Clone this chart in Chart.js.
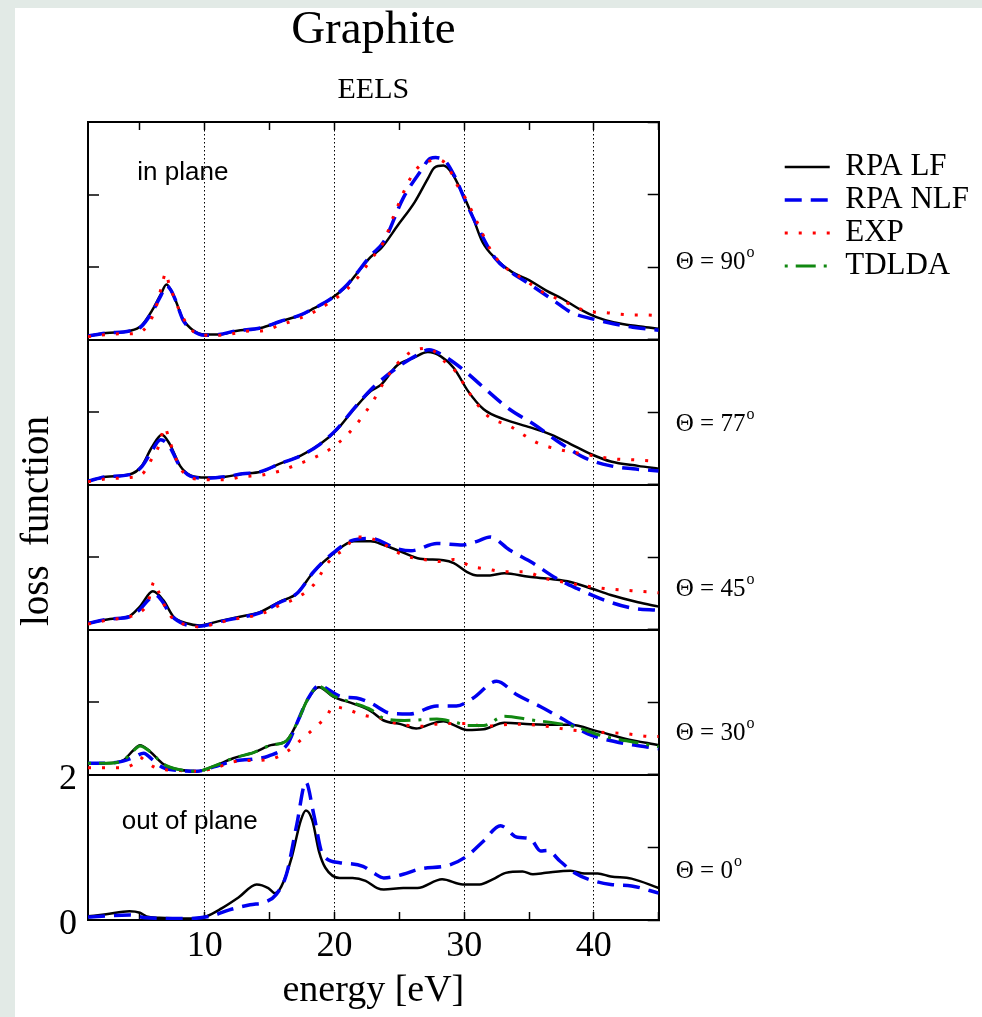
<!DOCTYPE html>
<html>
<head>
<meta charset="utf-8">
<title>Graphite EELS</title>
<script src="https://cdn.jsdelivr.net/npm/chart.js@4.4.1/dist/chart.umd.min.js"></script>
<style>
  html, body { margin: 0; padding: 0; background: #e2eae6; overflow: hidden; }
  #wrap { position: absolute; left: 15px; top: 8px; width: 967px; height: 1009px; background: #fff; overflow: hidden; }
  canvas { display: block; }
</style>
</head>
<body>
<div id="wrap"><canvas id="eels"></canvas></div>
<script>
// energies [eV] and loss function values, one pair per curve

// Theta = 90 (in plane)
const lf90E = [1, 2.4, 4.2, 5.1, 6.0, 6.6, 7.05, 7.4, 7.8, 8.3, 9.1, 10, 11.1, 12.4, 14.3, 15.8, 17.4, 18.4, 19.7, 21.0, 21.8, 22.8, 23.6, 24.9, 26.2, 27.2, 27.7, 28.4, 29.0, 29.8, 30.6, 31.4, 32.4, 33.7, 35.0, 36.3, 37.6, 38.9, 40.2, 41.5, 43.6, 45];
const lf90 = [0.05, 0.09, 0.12, 0.19, 0.42, 0.62, 0.76, 0.68, 0.52, 0.29, 0.13, 0.07, 0.07, 0.12, 0.16, 0.25, 0.34, 0.43, 0.56, 0.75, 0.93, 1.14, 1.26, 1.58, 1.90, 2.22, 2.37, 2.40, 2.31, 2.04, 1.72, 1.35, 1.12, 0.93, 0.82, 0.68, 0.56, 0.42, 0.31, 0.24, 0.18, 0.15];
const nlf90E = [1, 2.4, 4.2, 5.1, 6.0, 6.6, 7.05, 7.4, 7.8, 8.3, 9.1, 10, 11.1, 12.4, 14.3, 15.8, 17.4, 18.4, 19.7, 21.0, 22.8, 23.8, 25.3, 26.6, 27.4, 27.8, 28.6, 29.3, 30.0, 31.1, 32.4, 33.7, 35.0, 36.9, 38.2, 39.8, 41.5, 43.0, 45];
const nlf90 = [0.05, 0.09, 0.12, 0.18, 0.40, 0.60, 0.74, 0.68, 0.52, 0.28, 0.12, 0.06, 0.07, 0.12, 0.16, 0.25, 0.34, 0.43, 0.56, 0.76, 1.16, 1.35, 1.95, 2.31, 2.50, 2.51, 2.45, 2.24, 1.95, 1.53, 1.12, 0.92, 0.77, 0.54, 0.38, 0.29, 0.22, 0.17, 0.13];
const exp90E = [1, 2.4, 3.5, 4.2, 5.0, 5.6, 6.2, 6.7, 7.0, 7.3, 7.6, 8.0, 8.5, 9.2, 10, 11.1, 12.4, 13.5, 14.3, 15.8, 17.4, 18.4, 19.7, 21.0, 22.0, 22.8, 23.8, 24.6, 25.9, 26.6, 27.3, 28.0, 28.7, 29.4, 30.1, 31.0, 32.0, 33.0, 34.0, 35.0, 36.0, 37.0, 38.0, 39.0, 40.0, 41.0, 42.0, 43.0, 44.0, 45];
const exp90 = [0.04, 0.07, 0.08, 0.08, 0.10, 0.20, 0.42, 0.75, 0.92, 0.72, 0.60, 0.42, 0.25, 0.10, 0.06, 0.06, 0.09, 0.12, 0.12, 0.20, 0.30, 0.38, 0.52, 0.70, 0.90, 1.10, 1.35, 1.72, 2.24, 2.40, 2.46, 2.48, 2.40, 2.15, 1.95, 1.62, 1.25, 1.02, 0.90, 0.78, 0.66, 0.58, 0.50, 0.42, 0.38, 0.37, 0.35, 0.34, 0.34, 0.33];

// Theta = 77
const lf77E = [1, 2.4, 4.2, 5.15, 5.9, 6.7, 7.3, 8.1, 8.9, 10.1, 11.6, 12.9, 14.3, 15.8, 17.4, 18.9, 20.2, 21.5, 22.8, 23.6, 24.8, 26.1, 27.2, 28.2, 29.2, 30.3, 31.5, 33.1, 35.1, 36.7, 38.2, 39.8, 41.3, 43.4, 45];
const lf77 = [0.05, 0.11, 0.14, 0.26, 0.51, 0.69, 0.56, 0.26, 0.13, 0.10, 0.11, 0.15, 0.18, 0.29, 0.40, 0.56, 0.76, 1.04, 1.29, 1.38, 1.64, 1.75, 1.83, 1.77, 1.61, 1.29, 1.04, 0.90, 0.79, 0.69, 0.56, 0.42, 0.32, 0.26, 0.22];
const nlf77E = [1, 2.4, 4.2, 5.15, 5.9, 6.6, 7.3, 8.1, 8.9, 10.1, 11.6, 12.9, 14.3, 15.8, 17.4, 18.9, 20.2, 21.5, 22.8, 24.0, 25.2, 26.3, 27.3, 28.2, 29.9, 31.5, 33.5, 35.4, 37.2, 39.3, 41.3, 43.0, 45];
const nlf77 = [0.05, 0.11, 0.14, 0.25, 0.46, 0.62, 0.52, 0.25, 0.12, 0.09, 0.11, 0.15, 0.18, 0.29, 0.40, 0.56, 0.77, 1.05, 1.31, 1.50, 1.66, 1.78, 1.86, 1.80, 1.59, 1.34, 1.04, 0.83, 0.60, 0.37, 0.26, 0.22, 0.19];
const exp77E = [1, 2.4, 4.2, 5.2, 5.9, 6.5, 6.9, 7.3, 7.8, 8.3, 9.0, 10.1, 11.6, 12.9, 14.3, 15.8, 17.0, 18.4, 19.4, 20.2, 21.5, 23.0, 23.8, 24.8, 26.1, 27.2, 28.6, 29.4, 30.3, 31.8, 33.5, 35.6, 37.2, 39.3, 41.3, 43.4, 45];
const exp77 = [0.04, 0.08, 0.10, 0.15, 0.35, 0.55, 0.79, 0.60, 0.35, 0.18, 0.09, 0.07, 0.07, 0.11, 0.13, 0.19, 0.27, 0.37, 0.46, 0.56, 0.79, 1.16, 1.41, 1.66, 1.85, 1.88, 1.68, 1.55, 1.29, 0.95, 0.81, 0.58, 0.49, 0.42, 0.36, 0.34, 0.32];

// Theta = 45
const lf45E = [1, 2.7, 4.2, 5.0, 6.0, 6.8, 7.6, 8.6, 9.6, 11.1, 12.7, 14.2, 15.8, 17.1, 18.4, 19.9, 21.5, 22.8, 23.8, 25.1, 26.6, 28.4, 29.2, 30.2, 31.0, 32.0, 33.1, 35.0, 36.7, 38.2, 39.8, 41.3, 43.4, 45];
const lf45 = [0.09, 0.15, 0.19, 0.32, 0.53, 0.41, 0.18, 0.09, 0.06, 0.12, 0.18, 0.24, 0.39, 0.50, 0.80, 1.05, 1.22, 1.22, 1.17, 1.08, 0.98, 0.96, 0.92, 0.80, 0.75, 0.75, 0.78, 0.73, 0.70, 0.66, 0.57, 0.48, 0.38, 0.32];
const nlf45E = [1, 2.7, 4.2, 5.0, 5.7, 6.2, 6.7, 7.4, 8.4, 9.6, 11.1, 12.7, 14.2, 15.8, 17.1, 18.4, 19.9, 21.5, 22.8, 24.8, 25.9, 27.9, 29.9, 31.0, 32.0, 33.5, 35.3, 37.1, 38.7, 40.8, 42.9, 45];
const nlf45 = [0.09, 0.15, 0.18, 0.28, 0.42, 0.48, 0.40, 0.20, 0.08, 0.05, 0.11, 0.17, 0.23, 0.38, 0.50, 0.80, 1.06, 1.24, 1.26, 1.12, 1.09, 1.19, 1.17, 1.22, 1.28, 1.10, 0.92, 0.71, 0.57, 0.41, 0.30, 0.27];
const exp45E = [1, 2.7, 4.2, 5.0, 5.6, 6.1, 6.5, 7.0, 7.6, 8.6, 9.6, 11.1, 12.7, 14.2, 15.8, 17.1, 18.4, 19.4, 19.9, 21.0, 21.5, 22.8, 24.0, 25.3, 27.2, 28.4, 29.2, 30.6, 31.7, 33.1, 34.6, 36.2, 38.2, 40.8, 42.9, 45];
const exp45 = [0.08, 0.14, 0.18, 0.24, 0.36, 0.66, 0.50, 0.30, 0.14, 0.07, 0.04, 0.10, 0.16, 0.21, 0.34, 0.44, 0.62, 0.90, 1.00, 1.15, 1.28, 1.26, 1.16, 1.03, 0.96, 0.94, 0.97, 0.87, 0.84, 0.80, 0.80, 0.71, 0.64, 0.57, 0.54, 0.51];

// Theta = 30
const lf30E = [1, 2.4, 3.7, 4.5, 5.0, 5.8, 6.8, 8.1, 9.4, 10.7, 12.2, 13.8, 15.1, 16.3, 17.1, 17.9, 18.8, 19.9, 21.5, 22.8, 23.8, 25.1, 26.3, 27.4, 28.4, 29.3, 30.2, 31.5, 33.1, 35.1, 37.2, 38.2, 40.3, 42.4, 45];
const lf30 = [0.16, 0.16, 0.20, 0.34, 0.41, 0.32, 0.15, 0.07, 0.05, 0.12, 0.23, 0.31, 0.41, 0.47, 0.71, 1.03, 1.21, 1.08, 0.98, 0.88, 0.75, 0.70, 0.64, 0.70, 0.74, 0.68, 0.62, 0.63, 0.72, 0.70, 0.69, 0.69, 0.60, 0.50, 0.41];
const nlf30E = [1, 2.4, 3.7, 4.5, 5.3, 5.9, 6.8, 8.1, 9.4, 10.7, 12.2, 13.8, 14.9, 16.4, 17.1, 17.9, 18.8, 20.5, 21.7, 22.8, 24.3, 25.8, 27.9, 29.4, 30.7, 32.5, 34.1, 35.9, 37.7, 39.5, 41.6, 45];
const nlf30 = [0.16, 0.16, 0.19, 0.24, 0.30, 0.22, 0.10, 0.06, 0.05, 0.11, 0.19, 0.22, 0.26, 0.43, 0.71, 1.03, 1.23, 1.08, 1.06, 0.99, 0.85, 0.84, 0.95, 0.95, 1.06, 1.29, 1.10, 0.94, 0.76, 0.57, 0.46, 0.36];
const tdlda30E = [1, 2.4, 3.7, 4.5, 5.0, 5.8, 6.8, 8.1, 9.4, 10.7, 12.2, 13.8, 15.1, 16.3, 17.1, 17.9, 18.8, 19.9, 21.5, 22.8, 23.8, 25.4, 27.9, 29.4, 30.3, 31.5, 33.1, 35.1, 37.2, 38.6, 40.8, 42.5, 45];
const tdlda30 = [0.16, 0.16, 0.20, 0.33, 0.40, 0.32, 0.15, 0.07, 0.05, 0.12, 0.23, 0.31, 0.41, 0.47, 0.71, 1.03, 1.22, 1.09, 0.99, 0.90, 0.78, 0.75, 0.77, 0.72, 0.68, 0.68, 0.81, 0.76, 0.71, 0.66, 0.53, 0.47, 0.39];
const exp30E = [1, 2.4, 3.7, 4.5, 5.0, 5.5, 6.2, 7.0, 8.1, 9.4, 10.7, 12.2, 13.5, 14.9, 16.4, 17.4, 18.6, 19.4, 19.9, 21.0, 22.3, 23.6, 24.3, 26.6, 28.4, 30.3, 31.5, 33.8, 35.9, 38.2, 40.3, 42.4, 44.5, 45];
const exp30 = [0.10, 0.10, 0.10, 0.15, 0.24, 0.18, 0.10, 0.07, 0.06, 0.05, 0.09, 0.18, 0.20, 0.21, 0.33, 0.48, 0.67, 0.81, 0.94, 0.90, 0.82, 0.78, 0.73, 0.67, 0.71, 0.71, 0.67, 0.70, 0.68, 0.62, 0.59, 0.57, 0.53, 0.53];

// Theta = 0 (out of plane)
const lf0E = [1, 2.4, 4.2, 5.0, 5.5, 6.5, 8.8, 10.1, 11.3, 12.6, 14.0, 14.9, 15.4, 15.9, 16.7, 17.4, 17.8, 18.3, 18.8, 19.3, 20.4, 21.4, 22.4, 23.3, 23.8, 25.3, 26.4, 28.3, 29.9, 31.2, 32.2, 33.2, 34.5, 35.3, 36.3, 38.2, 39.3, 40.3, 41.3, 42.9, 45];
const lf0 = [0.05, 0.08, 0.12, 0.10, 0.05, 0.03, 0.02, 0.05, 0.16, 0.31, 0.49, 0.44, 0.37, 0.46, 0.86, 1.37, 1.51, 1.37, 0.95, 0.72, 0.58, 0.58, 0.54, 0.44, 0.42, 0.44, 0.44, 0.56, 0.49, 0.49, 0.56, 0.65, 0.67, 0.63, 0.65, 0.68, 0.64, 0.64, 0.60, 0.57, 0.44];
const nlf0E = [1, 4.2, 5.5, 8.8, 10.6, 11.9, 13.5, 14.7, 15.5, 16.3, 17.1, 17.8, 18.4, 19.1, 20.4, 22.2, 23.0, 23.8, 25.3, 26.5, 28.9, 30.2, 31.5, 32.8, 34.1, 35.1, 35.9, 36.4, 37.4, 38.5, 39.6, 41.3, 42.9, 45];
const nlf0 = [0.04, 0.07, 0.03, 0.02, 0.06, 0.14, 0.21, 0.25, 0.35, 0.63, 1.32, 1.90, 1.46, 0.90, 0.79, 0.74, 0.65, 0.58, 0.63, 0.70, 0.76, 0.88, 1.09, 1.30, 1.14, 1.12, 0.95, 0.96, 0.81, 0.65, 0.56, 0.49, 0.47, 0.37];

const seriesNames = ['RPA LF', 'RPA NLF', 'EXP', 'TDLDA'];
const xTicks = [10, 20, 30, 40];
const yTitle = 'loss  function';

// panels from top to bottom
const panels = [
  {id: '90', max: 3, theta: '90', thetaAt: 0.98},
  {id: '77', max: 2, theta: '77', thetaAt: 0.74},
  {id: '45', max: 2, theta: '45', thetaAt: 0.47},
  {id: '30', max: 2, theta: '30', thetaAt: 0.48},
  {id: '0', max: 2, theta: '0', thetaAt: 0.58}
];
const panelNotes = [
  {text: 'in plane', axis: 'y90', e: 4.8, v: 2.2},
  {text: 'out of plane', axis: 'y0', e: 3.6, v: 1.25}
];

const serif = 'Liberation Serif';
const styles = {
  'RPA LF': {borderColor: '#000000', borderWidth: 2.5, borderDash: [], order: 3},
  'RPA NLF': {borderColor: '#0000f0', borderWidth: 3.5, borderDash: [17, 9], order: 2},
  'EXP': {borderColor: '#ff0000', borderWidth: 3, borderDash: [3, 11], order: 1},
  'TDLDA': {borderColor: '#118811', borderWidth: 3, borderDash: [3, 8, 20, 8], order: 0}
};

function curve(label, axis, energies, values) {
  return Object.assign({
    label: label,
    xAxisID: 'x',
    yAxisID: axis,
    data: energies.map((e, i) => ({x: e, y: values[i]})),
    pointRadius: 0,
    pointHoverRadius: 0,
    fill: false,
    cubicInterpolationMode: 'monotone'
  }, styles[label]);
}

const datasets = [
  curve('RPA LF', 'y90', lf90E, lf90),
  curve('RPA NLF', 'y90', nlf90E, nlf90),
  curve('EXP', 'y90', exp90E, exp90),
  curve('RPA LF', 'y77', lf77E, lf77),
  curve('RPA NLF', 'y77', nlf77E, nlf77),
  curve('EXP', 'y77', exp77E, exp77),
  curve('RPA LF', 'y45', lf45E, lf45),
  curve('RPA NLF', 'y45', nlf45E, nlf45),
  curve('EXP', 'y45', exp45E, exp45),
  curve('RPA LF', 'y30', lf30E, lf30),
  curve('RPA NLF', 'y30', nlf30E, nlf30),
  curve('EXP', 'y30', exp30E, exp30),
  curve('TDLDA', 'y30', tdlda30E, tdlda30),
  curve('RPA LF', 'y0', lf0E, lf0),
  curve('RPA NLF', 'y0', nlf0E, nlf0)
];

// one stacked y axis per panel on the left, a mirror axis on the right
const scales = {};
const keepFives = s => { s.ticks = s.ticks.filter(t => t.value % 5 === 0); };
scales.x = {
  type: 'linear', position: 'bottom', min: 1, max: 45,
  afterBuildTicks: keepFives,
  afterFit: s => { s.height = 97; },
  ticks: {
    stepSize: 5, autoSkip: false, maxRotation: 0, padding: 13, color: '#000',
    font: {family: serif, size: 36},
    callback: v => (xTicks.includes(v) ? String(v) : '')
  },
  grid: {
    color: c => (c.tick && xTicks.includes(c.tick.value) ? '#000' : 'rgba(0,0,0,0)'),
    lineWidth: 1, tickLength: -8, tickColor: '#000', tickWidth: 1.5
  },
  border: {color: '#000', width: 2, dash: [1.5, 2.5]},
  title: {display: true, text: 'energy [eV]', color: '#000', font: {family: serif, size: 38}, padding: {top: 0, bottom: 3}}
};
scales.xTop = {
  type: 'linear', position: 'top', min: 1, max: 45,
  afterBuildTicks: keepFives,
  afterFit: s => { s.height = 0; },
  ticks: {stepSize: 5, display: false},
  grid: {drawOnChartArea: false, tickLength: -8, tickColor: '#000', tickWidth: 1.5},
  border: {color: '#000', width: 2}
};
panels.forEach((p, i) => {
  const last = i === panels.length - 1;
  scales['y' + p.id] = {
    type: 'linear', position: 'left', stack: 'panels', stackWeight: p.max, weight: panels.length - i,
    min: 0, max: p.max,
    afterFit: s => { s.width = 73; },
    ticks: {
      stepSize: 1, display: last, padding: 22, labelOffset: 5, color: '#000',
      font: {family: serif, size: 36},
      callback: v => (v === 1 ? '' : String(v))
    },
    grid: {
      color: c => (c.tick && c.tick.value === p.max ? '#000' : 'rgba(0,0,0,0)'),
      lineWidth: 2, tickLength: -11, tickColor: '#000', tickWidth: 1.5
    },
    border: {color: '#000', width: 2}
  };
  scales['r' + p.id] = {
    type: 'linear', position: 'right', stack: 'mirror', stackWeight: p.max, weight: i + 1,
    min: 0, max: p.max,
    afterFit: s => { s.width = 124; },
    ticks: {stepSize: 1, display: false},
    grid: {drawOnChartArea: false, tickLength: -11, tickColor: '#000', tickWidth: 1.5},
    border: {color: '#000', width: 2}
  };
});

// legend width decides the canvas width, so the plot stays where it is in the figure
const legendFont = {family: serif, size: 31};
const probe = document.createElement('canvas').getContext('2d');
probe.font = legendFont.size + 'px "' + serif + '"';
const legendTextW = Math.max(...seriesNames.map(t => probe.measureText(t).width));
const canvas = document.getElementById('eels');
canvas.width = Math.ceil(643 + 124 + 2 + 45 + legendFont.size / 2 + legendTextW + 10);
canvas.height = 1009;

// legend samples take the line style of the curves, not of their points
const baseLabels = Chart.defaults.plugins.legend.labels.generateLabels;
function lineLabels(chart) {
  return baseLabels(chart).map(item => {
    const ds = chart.data.datasets[item.datasetIndex];
    item.strokeStyle = ds.borderColor;
    item.lineWidth = ds.borderWidth;
    item.lineDash = ds.borderDash;
    item.lineCap = 'butt';
    return item;
  });
}

const sketch = {
  id: 'sketch',
  afterDraw(chart) {
    const {ctx, chartArea} = chart;
    const sc = chart.scales;
    ctx.save();
    ctx.fillStyle = '#000';
    ctx.textAlign = 'left';
    ctx.textBaseline = 'alphabetic';
    ctx.font = '26px "Liberation Sans"';
    panelNotes.forEach(n => {
      ctx.fillText(n.text, sc.x.getPixelForValue(n.e), sc[n.axis].getPixelForValue(n.v));
    });
    panels.forEach(p => {
      const x = chartArea.right + 17;
      const y = sc['y' + p.id].getPixelForValue(p.thetaAt);
      const s = 'Θ = ' + p.theta;
      ctx.font = '25px "' + serif + '"';
      ctx.fillText(s, x, y);
      const w = ctx.measureText(s).width;
      ctx.font = '16px "' + serif + '"';
      ctx.fillText('o', x + w + 1, y - 12);
    });
    ctx.font = '39px "' + serif + '"';
    ctx.translate(23, (chartArea.top + chartArea.bottom) / 2);
    ctx.rotate(-Math.PI / 2);
    ctx.textAlign = 'center';
    ctx.textBaseline = 'middle';
    ctx.fillText(yTitle, 0, 0);
    ctx.restore();
  }
};

new Chart(canvas, {
  type: 'line',
  data: {datasets: datasets},
  plugins: [sketch],
  options: {
    responsive: false,
    animation: false,
    devicePixelRatio: 1,
    layout: {padding: 0},
    interaction: {mode: 'nearest', intersect: true},
    scales: scales,
    plugins: {
      tooltip: {enabled: false},
      title: {
        display: true, text: 'Graphite', color: '#000', fullSize: false,
        font: {family: serif, size: 47, weight: 'normal', lineHeight: 0.9},
        padding: {top: 1.5, bottom: 20.4}
      },
      subtitle: {
        display: true, text: 'EELS', color: '#000', fullSize: false,
        font: {family: serif, size: 30, weight: 'normal', lineHeight: 1.2},
        padding: {top: 0, bottom: 13.8}
      },
      legend: {
        position: 'right', align: 'start', fullSize: false, maxWidth: 400,
        title: {display: true, text: '', font: {size: 12}, padding: {top: 0, bottom: 13}},
        labels: {
          usePointStyle: true, pointStyle: 'line', pointStyleWidth: 45, padding: 2,
          color: '#000', font: legendFont,
          generateLabels: lineLabels,
          filter: (item, data) => data.datasets.findIndex(d => d.label === item.text) === item.datasetIndex,
          sort: (a, b) => seriesNames.indexOf(a.text) - seriesNames.indexOf(b.text)
        }
      }
    }
  }
});
</script>
</body>
</html>
